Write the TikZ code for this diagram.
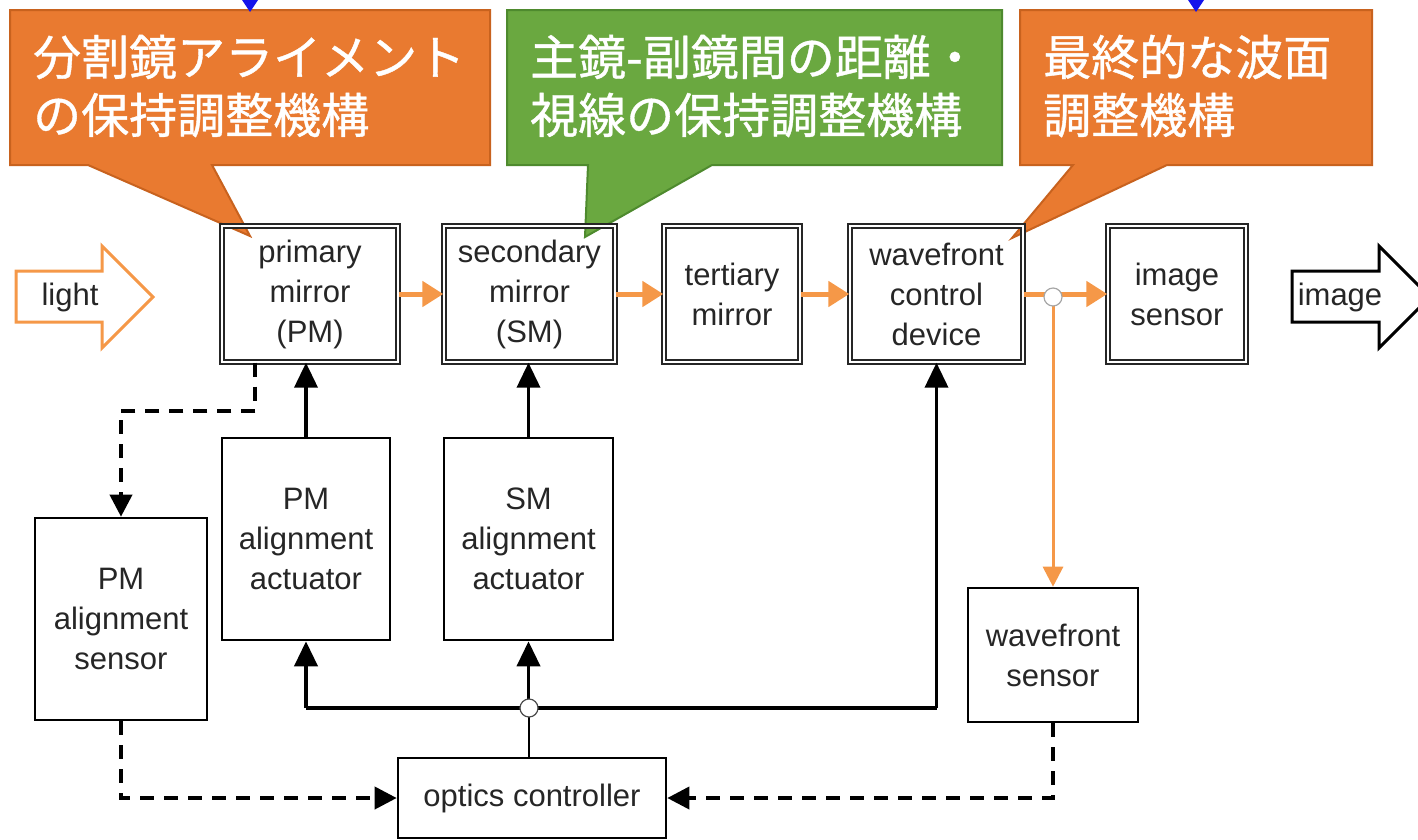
\documentclass[tikz,border=0pt]{standalone}
\usepackage{fontspec}
\setmainfont{Liberation Sans}
\newfontfamily\cjk[FakeBold=0.8]{Noto Sans CJK JP}
\usetikzlibrary{arrows.meta,calc}
\definecolor{calloutorange}{RGB}{233,122,48}
\definecolor{calloutorangeedge}{RGB}{200,98,30}
\definecolor{calloutgreen}{RGB}{106,168,64}
\definecolor{calloutgreenedge}{RGB}{78,138,46}
\definecolor{lightpath}{RGB}{245,152,72}
\definecolor{markblue}{RGB}{20,20,235}
\tikzset{
  boxfont/.style={font=\fontsize{31}{40}\selectfont, align=center, text=black!85},
  dbox/.style={boxfont, draw=black!85, double, double distance=2.6pt, line width=1.4pt, inner sep=0pt},
  sbox/.style={boxfont, draw=black, line width=2.6pt, inner sep=0pt, fill=white},
  calltext/.style={font=\cjk\fontsize{48}{58}\selectfont, text=white, align=left, anchor=west, inner sep=0pt},
  lightarrow/.style={draw=lightpath, line width=5pt, -{Triangle[length=21pt,width=25pt]}},
  lightthin/.style={draw=lightpath, line width=3pt, -{Triangle[length=20pt,width=20pt]}},
  ctrl/.style={draw=black, line width=3.8pt, -{Triangle[length=25pt,width=23pt]}},
  bus/.style={draw=black, line width=4.5pt},
  sense/.style={draw=black, line width=3.8pt, dash pattern=on 14pt off 10pt, -{Triangle[length=22pt,width=22pt]}},
  junction/.style={circle, draw=black!70, fill=white, line width=1.2pt, minimum size=18pt, inner sep=0pt}
}
\begin{document}
\begin{tikzpicture}[x=1pt,y=-1pt]
\useasboundingbox (0,0) rectangle (1418,839);
\clip (0,0) rectangle (1418,839);

% callout balloons
\fill[calloutorange, draw=calloutorangeedge, line width=2pt]
  (10,10) -- (490,10) -- (490,165) -- (212,165) -- (250,236) -- (88,165) -- (10,165) -- cycle;
\node[calltext] (c1) at (33,86) {分割鏡アライメント\\の保持調整機構};
\fill[calloutgreen, draw=calloutgreenedge, line width=2pt]
  (507,10) -- (1002,10) -- (1002,165) -- (712,165) -- (585,237) -- (588,165) -- (507,165) -- cycle;
\node[calltext] (c2) at (530,86) {主鏡-副鏡間の距離・\\視線の保持調整機構};
\fill[calloutorange, draw=calloutorangeedge, line width=2pt]
  (1020,10) -- (1372,10) -- (1372,165) -- (1167,165) -- (1012,238) -- (1073,165) -- (1020,165) -- cycle;
\node[calltext] (c3) at (1043,86) {最終的な波面\\調整機構};

% blue pointer tips entering from above
\fill[markblue] (242,0) -- (258,0) -- (250,12) -- cycle;
\fill[markblue] (1188,0) -- (1204,0) -- (1196,12) -- cycle;

% optical train
\node[dbox, minimum width=176pt, minimum height=136pt] (pm) at (310,294) {primary\\mirror\\(PM)};
\node[dbox, minimum width=171pt, minimum height=136pt] (sm) at (529.5,294) {secondary\\mirror\\(SM)};
\node[dbox, minimum width=136pt, minimum height=136pt] (tm) at (732,294) {tertiary\\mirror};
\node[dbox, minimum width=173pt, minimum height=136pt] (wcd) at (936.5,294) {wavefront\\control\\device};
\node[dbox, minimum width=138pt, minimum height=136pt] (is) at (1177,294) {image\\sensor};

% control blocks
\node[sbox, minimum width=168pt, minimum height=202pt] (pma) at (306,539) {PM\\alignment\\actuator};
\node[sbox, minimum width=169pt, minimum height=202pt] (sma) at (528.5,539) {SM\\alignment\\actuator};
\node[sbox, minimum width=172pt, minimum height=202pt] (pms) at (121,619) {PM\\alignment\\sensor};
\node[sbox, minimum width=170pt, minimum height=134pt] (wfs) at (1053,655) {wavefront\\sensor};
\node[sbox, minimum width=268pt, minimum height=80pt] (oc) at (532,798) {optics controller};

% incoming light and outgoing image
\draw[lightpath, line width=3pt, line join=miter, fill=white]
  (16,271) -- (102,271) -- (102,246) -- (153,297) -- (102,348) -- (102,322) -- (16,322) -- cycle;
\node[boxfont, inner sep=0pt] (light) at (70,297) {light};
\draw[black, line width=3pt, line join=miter, fill=white]
  (1292,271) -- (1379,271) -- (1379,246) -- (1430,297) -- (1379,348) -- (1379,322) -- (1292,322) -- cycle;
\node[boxfont, inner sep=0pt] (img) at (1340,297) {image};

% light path between elements
\draw[lightarrow] (pm.east) -- (sm.west);
\draw[lightarrow] (sm.east) -- (tm.west);
\draw[lightarrow] (tm.east) -- (wcd.west);
\draw[lightarrow] (wcd.east) -- (is.west);
\coordinate (split) at (1053,297);
\draw[lightthin] (split) -- (wfs.north);
\node[junction, draw=black!35] (jo) at (split) {};

% actuator commands
\draw[ctrl] (pma.north) -- (pma.north |- pm.south);
\draw[ctrl] (sma.north) -- (sma.north |- sm.south);
\coordinate (bus) at (529,708);
\draw[bus, line join=miter] (pma.south |- bus) -- (wcd.south |- bus);
\draw[ctrl] (pma.south |- bus) -- (pma.south);
\draw[ctrl] (sma.south |- bus) -- (sma.south);
\draw[ctrl] (wcd.south |- bus) -- (wcd.south);
\draw[black, line width=2.8pt] (oc.north -| bus) -- (bus);
\node[junction] (jb) at (bus) {};

% sensing paths
\draw[sense] ([xshift=34pt]pm.south west) -- ++(0,48) -| (pms.north);
\draw[sense] (pms.south) |- (oc.west);
\draw[sense] (wfs.south) |- (oc.east);
\end{tikzpicture}
\end{document}
